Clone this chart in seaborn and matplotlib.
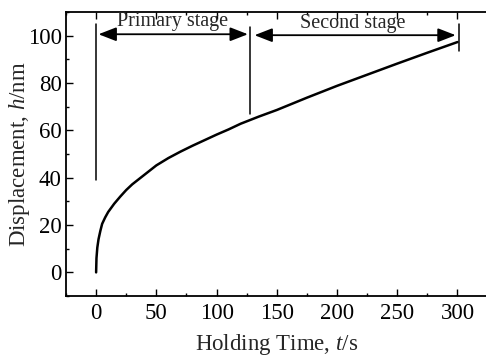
import matplotlib
matplotlib.use("Agg")
import matplotlib.pyplot as plt
import seaborn as sns
import pandas as pd

# Indentation creep curve: holding time (s) vs displacement (nm)
time_s = [0, 0.3, 1, 2, 3.5, 5, 7.5, 10, 15, 20, 25, 30, 40, 50, 60, 70, 80,
          100, 110, 120, 135, 150, 175, 200, 225, 250, 275, 300]
disp_nm = [0, 6.0, 10.5, 14.0, 17.5, 20.5, 23.2, 25.5, 29.0, 32.0, 34.8, 37.2,
           41.2, 45.2, 48.3, 51.0, 53.5, 58.2, 60.4, 62.8, 65.8, 68.6, 73.8,
           78.8, 83.5, 88.2, 92.8, 97.3]

# Stage boundaries (s) and marker line extents (nm)
stage_bounds = [0, 128, 301]
marker_lo = [39, 67, 93.5]
marker_hi = [105, 103.5, 105]
stage_names = ["Primary stage", "Second stage"]

x_ticks = [0, 50, 100, 150, 200, 250, 300]
y_ticks = [0, 20, 40, 60, 80, 100]

sns.set_theme(style="ticks")
plt.rcParams["font.family"] = ["Liberation Serif", "DejaVu Serif"]
plt.rcParams["mathtext.fontset"] = "custom"
plt.rcParams["mathtext.rm"] = "Liberation Serif"
plt.rcParams["mathtext.it"] = "Liberation Serif:italic"

fig = plt.figure(figsize=(4.86, 3.58), dpi=100)
ax = fig.add_axes([66 / 486, 0.173, (487.6 - 66) / 486, 0.9665 - 0.173])

df = pd.DataFrame({"t": time_s, "h": disp_nm})
sns.lineplot(data=df, x="t", y="h", ax=ax, color="black", lw=1.8)

for x, lo, hi in zip(stage_bounds, marker_lo, marker_hi):
    ax.plot([x, x], [lo, hi], color="black", lw=1.1)

arrow_kw = dict(arrowstyle="<|-|>,head_length=0.9,head_width=0.35",
                color="black", lw=1.3, shrinkA=0, shrinkB=0)
ax.annotate("", xy=(126, 100.6), xytext=(2, 100.6), arrowprops=arrow_kw)
ax.annotate("", xy=(298.5, 100.2), xytext=(131.5, 100.2), arrowprops=arrow_kw)
ax.text(63.5, 103.9, stage_names[0], ha="center", va="baseline", fontsize=14.5)
ax.text(213, 103.3, stage_names[1], ha="center", va="baseline", fontsize=14.5)

ax.set_xlim(-25, 325)
ax.set_ylim(-10, 110)
ax.set_xticks(x_ticks)
ax.set_yticks(y_ticks)
ax.set_xticks(range(-25, 326, 25), minor=True)
ax.set_yticks(range(-10, 111, 10), minor=True)
ax.tick_params(which="both", direction="in", top=True, right=False,
               labelsize=16.5, width=1.0, colors="black")
ax.tick_params(axis="y", which="both", pad=3)
ax.tick_params(axis="x", which="both", pad=5)
ax.tick_params(which="major", length=5)
ax.tick_params(which="minor", length=2.5)
for s in ax.spines.values():
    s.set_linewidth(1.3)
    s.set_color("black")

ax.set_xlabel(r"Holding Time, $\mathit{t}$/s", fontsize=16.5, labelpad=5.5)
ax.set_ylabel(r"Displacement, $\mathit{h}$/nm", fontsize=16.5, labelpad=-3)

fig.savefig("out.png", dpi=100)
